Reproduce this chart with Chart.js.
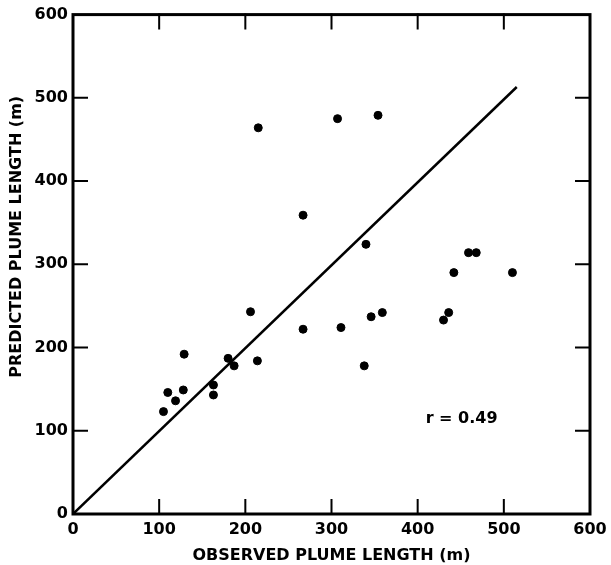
<!DOCTYPE html>
<html>
<head>
<meta charset="utf-8">
<script src="https://cdn.jsdelivr.net/npm/chart.js@4/dist/chart.umd.min.js"></script>
<style>
  html, body { margin: 0; padding: 0; background: #fff; }
  #wrap { width: 611px; height: 565px; }
</style>
</head>
<body>
<div id="wrap"><canvas id="plume"></canvas></div>
<script>
// observed vs predicted plume length (m)
const observed = [105, 110, 119, 128, 129, 163, 163, 180, 187, 206, 214, 267, 311, 346,
                  359, 338, 430, 436, 442, 510, 307, 354, 267, 340, 459, 468, 215];
const predicted = [123, 146, 136, 149, 192, 155, 143, 187, 178, 243, 184, 222, 224, 237,
                   242, 178, 233, 242, 290, 290, 475, 479, 359, 324, 314, 314, 464];

// the straight line through the points
const fitX = [0, 515];
const fitY = [0, 513];

const xTicks = [0, 100, 200, 300, 400, 500, 600];
const yTicks = [0, 100, 200, 300, 400, 500, 600];
const rLabel = "r = 0.49";
const yTitle = "PREDICTED PLUME LENGTH (m)";

const FONT = "'DejaVu Sans', sans-serif";

const points = observed.map((v, i) => ({ x: v, y: predicted[i] }));
const fitLine = fitX.map((v, i) => ({ x: v, y: fitY[i] }));

// frame + inward ticks on all four sides, r label, y title
const framePlugin = {
  id: 'frame',
  afterDatasetsDraw(chart) {
    const ctx = chart.ctx;
    const a = chart.chartArea;
    const xs = chart.scales.x, ys = chart.scales.y;
    const len = 14;
    ctx.save();
    ctx.strokeStyle = '#000';
    ctx.lineWidth = 3;
    ctx.lineCap = 'square';
    ctx.strokeRect(a.left, a.top, a.right - a.left, a.bottom - a.top);
    ctx.lineWidth = 2;
    ctx.beginPath();
    xTicks.slice(1, -1).forEach(t => {
      const px = xs.getPixelForValue(t);
      ctx.moveTo(px, a.bottom); ctx.lineTo(px, a.bottom - len);
      ctx.moveTo(px, a.top); ctx.lineTo(px, a.top + len);
    });
    yTicks.slice(1, -1).forEach(t => {
      const py = ys.getPixelForValue(t);
      ctx.moveTo(a.left, py); ctx.lineTo(a.left + len, py);
      ctx.moveTo(a.right, py); ctx.lineTo(a.right - len, py);
    });
    ctx.stroke();

    ctx.fillStyle = '#000';
    ctx.font = 'bold 16px ' + FONT;
    ctx.textAlign = 'center';
    ctx.textBaseline = 'middle';
    ctx.fillText(rLabel, xs.getPixelForValue(451), ys.getPixelForValue(114));

    // y title sits a bit above the middle in the original
    ctx.translate(17, ys.getPixelForValue(333));
    ctx.rotate(-Math.PI / 2);
    ctx.fillText(yTitle, 0, 0);
    ctx.restore();
  }
};

new Chart(document.getElementById('plume'), {
  type: 'scatter',
  data: {
    datasets: [
      {
        type: 'scatter',
        data: points,
        backgroundColor: '#000',
        borderColor: '#000',
        pointRadius: 4,
        pointHoverRadius: 4
      },
      {
        type: 'line',
        data: fitLine,
        borderColor: '#000',
        borderWidth: 2.5,
        pointRadius: 0,
        fill: false
      }
    ]
  },
  plugins: [framePlugin],
  options: {
    responsive: true,
    maintainAspectRatio: false,
    animation: false,
    events: [],
    layout: { padding: { left: 0, right: 21, top: 14, bottom: 0 } },
    plugins: {
      legend: { display: false },
      tooltip: { enabled: false }
    },
    scales: {
      x: {
        type: 'linear',
        min: 0,
        max: 600,
        afterBuildTicks: s => { s.ticks = xTicks.map(v => ({ value: v })); },
        afterFit: s => { s.height = 51; s.paddingRight = 0; },
        grid: { display: false, drawTicks: false },
        border: { display: false },
        ticks: { color: '#000', font: { family: FONT, size: 16, weight: 'bold' }, padding: 6, maxRotation: 0 },
        title: {
          display: true,
          text: 'OBSERVED PLUME LENGTH (m)',
          color: '#000',
          font: { family: FONT, size: 16, weight: 'bold' },
          padding: { top: 2, bottom: 0 }
        }
      },
      y: {
        type: 'linear',
        min: 0,
        max: 600,
        afterBuildTicks: s => { s.ticks = yTicks.map(v => ({ value: v })); },
        afterFit: s => { s.width = 73; },
        grid: { display: false, drawTicks: false },
        border: { display: false },
        ticks: { color: '#000', font: { family: FONT, size: 16, weight: 'bold' }, padding: 5 }
      }
    }
  }
});
</script>
</body>
</html>
